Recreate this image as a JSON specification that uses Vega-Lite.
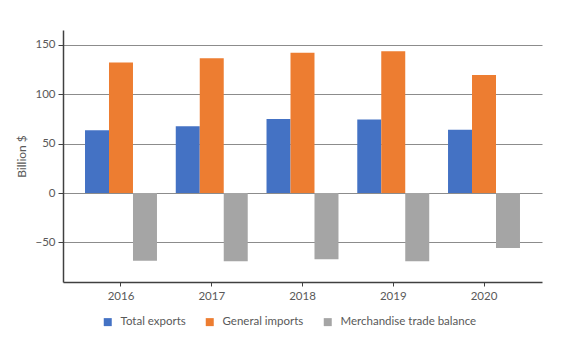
{
  "$schema": "https://vega.github.io/schema/vega-lite/v6.json",
  "width": 479,
  "height": 252,
  "autosize": {"type": "none"},
  "padding": {"left": 63, "top": 30, "right": 19, "bottom": 78},
  "background": "white",
  "config": {
    "view": {"stroke": null},
    "font": "Lato",
    "axis": {"labelColor": "#595959", "titleColor": "#595959", "labelFontSize": 11.5, "titleFontSize": 12, "titleFontWeight": "normal"},
    "legend": {"labelColor": "#595959", "labelFontSize": 11.5}
  },
  "data": {
    "values": [
      {"year": "2016", "series": "Total exports", "value": 63.5},
      {"year": "2016", "series": "General imports", "value": 132},
      {"year": "2016", "series": "Merchandise trade balance", "value": -68.5},
      {"year": "2017", "series": "Total exports", "value": 67.5},
      {"year": "2017", "series": "General imports", "value": 136.5},
      {"year": "2017", "series": "Merchandise trade balance", "value": -69},
      {"year": "2018", "series": "Total exports", "value": 75},
      {"year": "2018", "series": "General imports", "value": 142},
      {"year": "2018", "series": "Merchandise trade balance", "value": -67},
      {"year": "2019", "series": "Total exports", "value": 74.5},
      {"year": "2019", "series": "General imports", "value": 143.5},
      {"year": "2019", "series": "Merchandise trade balance", "value": -69},
      {"year": "2020", "series": "Total exports", "value": 64},
      {"year": "2020", "series": "General imports", "value": 119.5},
      {"year": "2020", "series": "Merchandise trade balance", "value": -55.5}
    ]
  },
  "mark": {"type": "bar"},
  "encoding": {
    "x": {
      "field": "year", "type": "nominal",
      "scale": {"paddingInner": 0.207, "paddingOuter": 0.2425},
      "axis": {"title": null, "labelAngle": 0, "domainColor": "#404040", "domainWidth": 1.5, "tickColor": "#404040", "tickSize": 4, "labelPadding": 4, "grid": false}
    },
    "xOffset": {
      "field": "series", "type": "nominal",
      "scale": {"domain": ["Total exports", "General imports", "Merchandise trade balance"], "paddingInner": 0, "paddingOuter": 0}
    },
    "y": {
      "field": "value", "type": "quantitative",
      "scale": {"domain": [-90, 165], "nice": false, "zero": false},
      "axis": {"values": [-50, 0, 50, 100, 150], "title": "Billion $", "grid": true, "gridColor": "#8c8c8c", "gridWidth": 1, "domainColor": "#404040", "domainWidth": 1.5, "tickColor": "#404040", "tickSize": 5, "labelPadding": 3, "titlePadding": 6}
    },
    "color": {
      "field": "series", "type": "nominal",
      "scale": {"domain": ["Total exports", "General imports", "Merchandise trade balance"], "range": ["#4472C4", "#ED7D31", "#A5A5A5"]},
      "legend": {"orient": "none", "legendX": 39, "legendY": 286, "direction": "horizontal", "title": null, "symbolType": "square", "symbolSize": 64, "symbolStrokeWidth": 0, "columnPadding": 18, "labelOffset": 7}
    }
  }
}
